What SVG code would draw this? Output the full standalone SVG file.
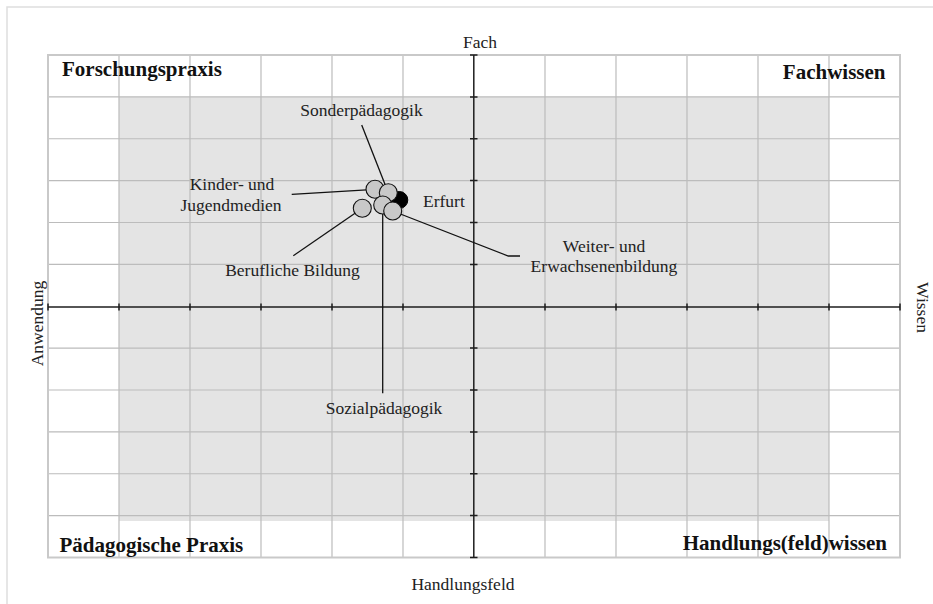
<svg xmlns="http://www.w3.org/2000/svg" width="933" height="604" viewBox="0 0 933 604">
<style>
.frame{fill:none;stroke:#dedede;stroke-width:1.5}
.shade{fill:#e4e4e4}
.grid{stroke:#bcbcbc;stroke-width:1.2;fill:none}
.border{fill:none;stroke:#c9c9c9;stroke-width:2}
.axis{stroke:#1e1e1e;stroke-width:1.5;fill:none}
.lbl{font-family:"Liberation Serif","Times New Roman",serif;font-size:17.5px;fill:#222}
.q{font-family:"Liberation Serif","Times New Roman",serif;font-size:21px;font-weight:bold;fill:#111}
.pt{fill:#c8c8c8;stroke:#111;stroke-width:1.1}
.ref{fill:#000;stroke:#000;stroke-width:1}
.con{stroke:#111;stroke-width:1.3;fill:none}
</style>
<rect class="frame" x="7" y="7" width="1000" height="700"/>
<g id="background">
<rect x="48" y="55" width="852" height="502" fill="#fff"/>
<rect class="shade" x="119" y="97" width="710" height="424"/>
<g class="grid">
<path d="M119 55V557M190 55V557M261 55V557M332 55V557M403 55V557M545 55V557M616 55V557M687 55V557M758 55V557M829 55V557"/>
<path d="M48 96.9H900M48 138.75H900M48 180.6H900M48 222.5H900M48 264.4H900M48 348.1H900M48 390H900M48 431.9H900M48 473.75H900M48 515.6H900"/>
</g>
<rect class="border" x="48" y="55" width="852" height="502.5"/>
</g>
<g id="axes" class="axis">
<path d="M473.8 55V557.5"/>
<path d="M48 307H900"/>
<path d="M470 55H477.5M470 96.9H477.5M470 138.75H477.5M470 180.6H477.5M470 222.5H477.5M470 264.4H477.5M470 348.1H477.5M470 390H477.5M470 431.9H477.5M470 473.75H477.5M470 515.6H477.5M470 557.5H477.5"/>
<path d="M48 303.5V310.5M119 303.5V310.5M190 303.5V310.5M261 303.5V310.5M332 303.5V310.5M403 303.5V310.5M545 303.5V310.5M616 303.5V310.5M687 303.5V310.5M758 303.5V310.5M829 303.5V310.5M900 303.5V310.5"/>
</g>
<g id="axis-labels">
<text class="lbl" x="480" y="48" text-anchor="middle">Fach</text>
<text class="lbl" x="463" y="590" text-anchor="middle">Handlungsfeld</text>
<text class="lbl" transform="translate(43,323.5) rotate(-90)" text-anchor="middle">Anwendung</text>
<text class="lbl" transform="translate(917,307.5) rotate(90)" text-anchor="middle">Wissen</text>
</g>
<g id="quadrants">
<text class="q" x="62" y="76">Forschungspraxis</text>
<text class="q" x="885.5" y="79" text-anchor="end">Fachwissen</text>
<text class="q" x="59.5" y="552">Pädagogische Praxis</text>
<text class="q" x="887" y="550" text-anchor="end">Handlungs(feld)wissen</text>
</g>
<g id="connectors">
<path class="con" d="M361.7 125L388.3 192.7"/>
<path class="con" d="M291.7 194.3L375 189.3"/>
<path class="con" d="M293.3 255.7L362.3 208.3"/>
<path class="con" d="M382.7 214V393.3"/>
<path class="con" d="M392.7 211L508.3 256H520"/>
</g>
<g id="node-erfurt">
<circle class="ref" cx="399.3" cy="200" r="8.5"/>
<text class="lbl" x="423" y="207">Erfurt</text>
</g>
<g id="node-kinder-jugendmedien">
<circle class="pt" cx="375" cy="189.3" r="9"/>
<text class="lbl" x="232" y="190" text-anchor="middle">Kinder- und</text>
<text class="lbl" x="231" y="210.5" text-anchor="middle">Jugendmedien</text>
</g>
<g id="node-sonderpaedagogik">
<circle class="pt" cx="388.3" cy="192.7" r="9"/>
<text class="lbl" x="361.5" y="115.5" text-anchor="middle">Sonderpädagogik</text>
</g>
<g id="node-berufliche-bildung">
<circle class="pt" cx="362.3" cy="208.3" r="9"/>
<text class="lbl" x="292.5" y="275.5" text-anchor="middle">Berufliche Bildung</text>
</g>
<g id="node-sozialpaedagogik">
<circle class="pt" cx="382.7" cy="205" r="9"/>
<text class="lbl" x="384" y="414" text-anchor="middle">Sozialpädagogik</text>
</g>
<g id="node-weiterbildung">
<circle class="pt" cx="392.7" cy="211" r="9"/>
<text class="lbl" x="604" y="252" text-anchor="middle">Weiter- und</text>
<text class="lbl" x="604" y="271.7" text-anchor="middle">Erwachsenenbildung</text>
</g>
</svg>
